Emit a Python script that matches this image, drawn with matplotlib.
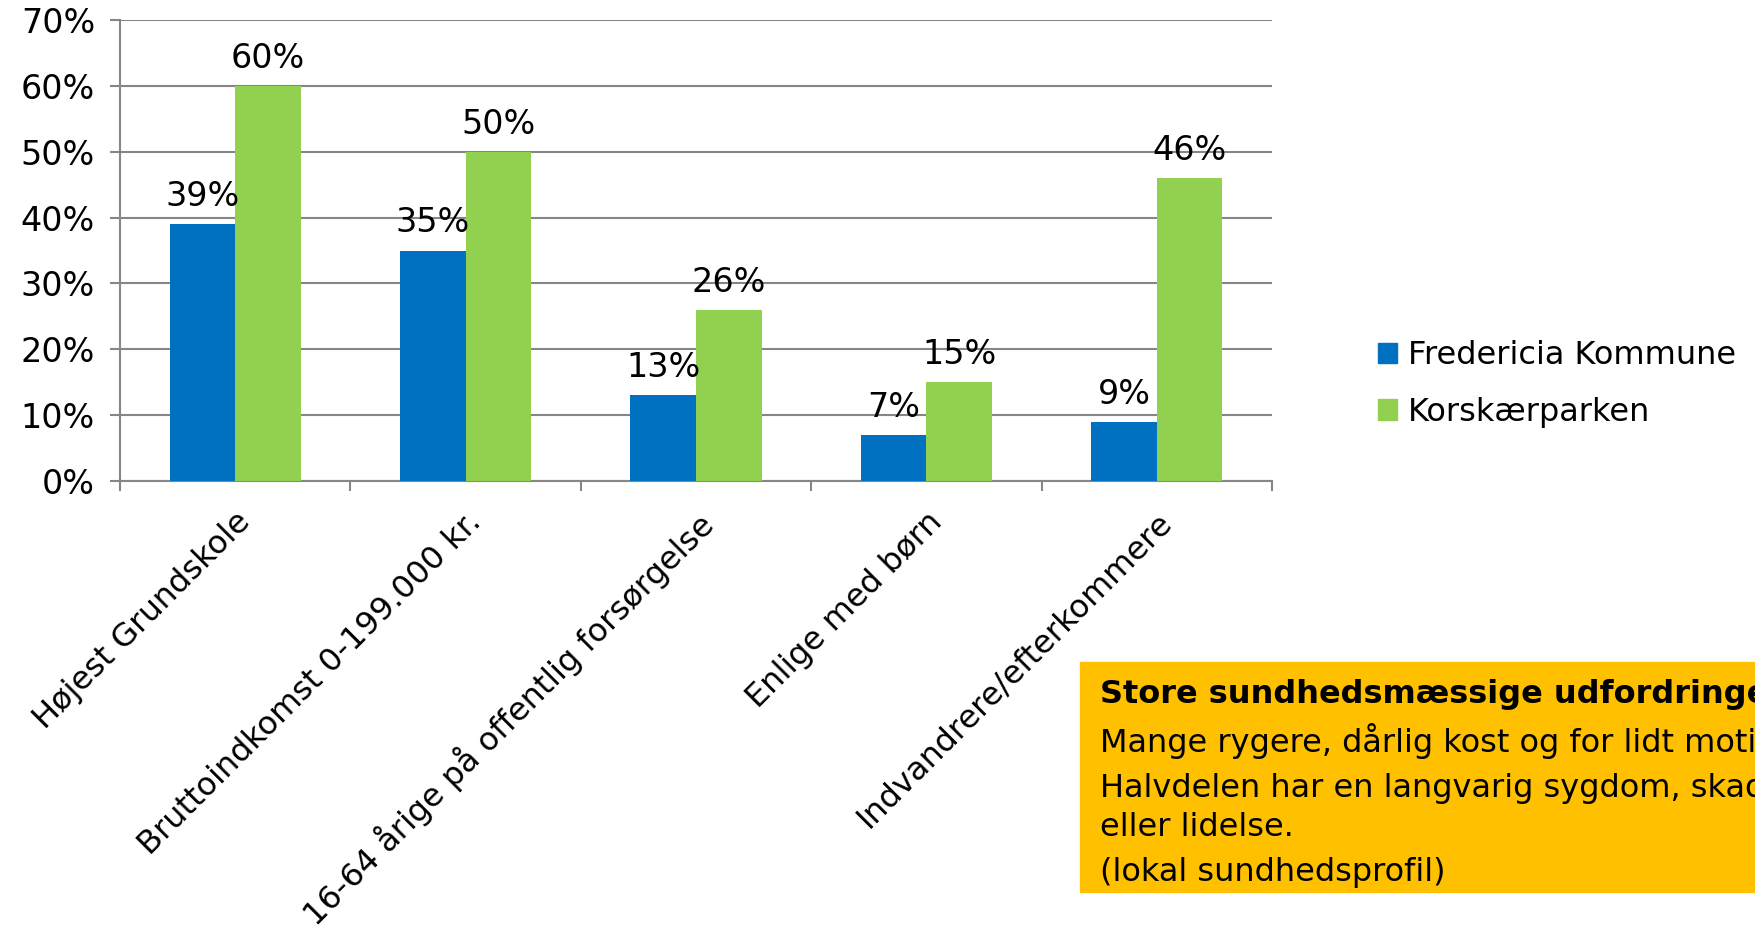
import matplotlib.pyplot as plt
import numpy as np
from matplotlib.patches import Patch, Rectangle

# data
categories = ['Højest Grundskole', 'Bruttoindkomst 0-199.000 kr.',
              '16-64 årige på offentlig forsørgelse', 'Enlige med børn',
              'Indvandrere/efterkommere']
fredericia = [39, 35, 13, 7, 9]
korskaer = [60, 50, 26, 15, 46]
series_names = ['Fredericia Kommune', 'Korskærparken']
box_title = 'Store sundhedsmæssige udfordringer:'
box_lines = ['Mange rygere, dårlig kost og for lidt motion.',
             'Halvdelen har en langvarig sygdom, skade',
             'eller lidelse.',
             '(lokal sundhedsprofil)']

blue = '#0070C0'
green = '#92D050'
grid_col = '#868686'
fs_num = 24   # tick numbers and data labels
fs = 23       # category labels, legend, box text

plt.rcParams['font.family'] = ['DejaVu Sans']

W, H = 1755, 927
fig = plt.figure(figsize=(W / 100, H / 100), dpi=100)
ax = fig.add_axes([120 / W, 1 - 481 / H, (1272 - 120) / W, (481 - 20) / H])

x = np.arange(len(categories))
w = 0.285
b1 = ax.bar(x - w / 2, fredericia, w, color=blue, zorder=3)
b2 = ax.bar(x + w / 2, korskaer, w, color=green, zorder=3)

for bars, vals in ((b1, fredericia), (b2, korskaer)):
    for r, v in zip(bars, vals):
        ax.annotate(f'{v}%', (r.get_x() + r.get_width() / 2, v),
                    xytext=(0, 8), textcoords='offset points',
                    ha='center', va='bottom', fontsize=fs_num, zorder=4)

ax.set_xlim(-0.5, len(categories) - 0.5)
ax.set_ylim(0, 70)
ax.set_yticks(range(0, 71, 10))
ax.set_yticklabels([f'{v}%' for v in range(0, 71, 10)], fontsize=fs_num)
ax.yaxis.grid(True, color=grid_col, linewidth=1.5, zorder=0)

# boundary ticks as major, labels on minor at the centers
ax.set_xticks(np.arange(-0.5, len(categories), 1.0))
ax.set_xticklabels([])
ax.set_xticks(x, minor=True)
ax.set_xticklabels(categories, minor=True, rotation=45, ha='right',
                   rotation_mode='anchor', fontsize=fs)
ax.tick_params(axis='x', which='minor', length=0, pad=18)
ax.tick_params(axis='x', which='major', length=7, width=1.5, color=grid_col)
ax.tick_params(axis='y', length=7, width=1.5, color=grid_col, pad=11)

for s in ('top', 'right'):
    ax.spines[s].set_visible(False)
for s in ('left', 'bottom'):
    ax.spines[s].set_color(grid_col)
    ax.spines[s].set_linewidth(1.5)

handles = [Patch(color=blue), Patch(color=green)]
fig.legend(handles, series_names, loc='center left',
           bbox_to_anchor=(1349 / W, 1 - 384 / H), frameon=False,
           fontsize=fs, handlelength=0.6, handleheight=0.6,
           handletextpad=0.35, labelspacing=0.8)

# yellow info box
fig.patches.append(Rectangle((1080 / W, 1 - 892 / H), (W - 1080) / W, (892 - 662) / H,
                             transform=fig.transFigure, color='#FFC000', zorder=0))
fig.text(1100 / W, 1 - 695 / H, box_title, fontsize=fs, fontweight='bold', va='center')
for yy, line in zip([741, 788, 828, 872], box_lines):
    fig.text(1100 / W, 1 - yy / H, line, fontsize=fs, va='center')

fig.savefig('out.png', dpi=100)
